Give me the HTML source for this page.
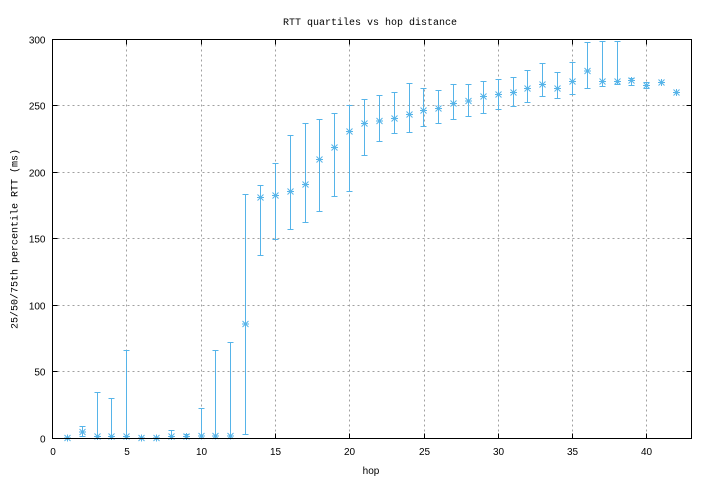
<!DOCTYPE html>
<html><head><meta charset="utf-8"><style>
html,body{margin:0;padding:0;background:#fff;}
svg{display:block;}
.t{font-family:"Liberation Sans",sans-serif;font-size:10px;fill:#000;}
.m{font-family:"Liberation Mono",monospace;font-size:10px;fill:#000;}
</style></head><body>
<svg width="710" height="480" viewBox="0 0 710 480" xmlns="http://www.w3.org/2000/svg">
<rect x="0" y="0" width="710" height="480" fill="#fff"/>
<defs>
<path id="mk" d="M-3.5 0H3.5M0 -3.5V3.5M-3 -3L3 3M-3 3L3 -3" stroke="#56b4e9" stroke-width="1" fill="none"/>
</defs>
<g stroke="#a0a0a0" stroke-width="1" stroke-dasharray="2,3" fill="none" shape-rendering="crispEdges">
<path d="M126.5 39.5V438.5M201.5 39.5V438.5M275.5 39.5V438.5M349.5 39.5V438.5M424.5 39.5V438.5M498.5 39.5V438.5M572.5 39.5V438.5M646.5 39.5V438.5"/>
<path d="M52.5 371.5H691.5M52.5 305.5H691.5M52.5 238.5H691.5M52.5 172.5H691.5M52.5 105.5H691.5"/>
</g>
<g stroke="#000" stroke-width="1" fill="none" shape-rendering="crispEdges">
<path d="M52.5 371.5h5M52.5 305.5h5M52.5 238.5h5M52.5 172.5h5M52.5 105.5h5M691.5 371.5h-5M691.5 305.5h-5M691.5 238.5h-5M691.5 172.5h-5M691.5 105.5h-5"/>
<path d="M126.5 438.5v-5M201.5 438.5v-5M275.5 438.5v-5M349.5 438.5v-5M424.5 438.5v-5M498.5 438.5v-5M572.5 438.5v-5M646.5 438.5v-5M126.5 39.5v5M201.5 39.5v5M275.5 39.5v5M349.5 39.5v5M424.5 39.5v5M498.5 39.5v5M572.5 39.5v5M646.5 39.5v5"/>
</g>
<g stroke="#56b4e9" stroke-width="1" fill="none" shape-rendering="crispEdges">
<path d="M82.5 426.5V436.5M79.5 426.5H85.5M79.5 436.5H85.5"/>
<path d="M97.5 392.5V437.5M94.5 392.5H100.5"/>
<path d="M111.5 398.5V437.5M108.5 398.5H114.5"/>
<path d="M126.5 350.5V437.5M123.5 350.5H129.5"/>
<path d="M171.5 430.5V437.5M168.5 430.5H174.5"/>
<path d="M186.5 434.5V437.5M183.5 434.5H189.5"/>
<path d="M201.5 408.5V437.5M198.5 408.5H204.5"/>
<path d="M215.5 350.5V437.5M212.5 350.5H218.5"/>
<path d="M230.5 342.5V437.5M227.5 342.5H233.5"/>
<path d="M245.5 194.5V434.5M242.5 194.5H248.5M242.5 434.5H248.5"/>
<path d="M260.5 185.5V255.5M257.5 185.5H263.5M257.5 255.5H263.5"/>
<path d="M275.5 163.5V239.5M272.5 163.5H278.5M272.5 239.5H278.5"/>
<path d="M290.5 135.5V229.5M287.5 135.5H293.5M287.5 229.5H293.5"/>
<path d="M305.5 123.5V222.5M302.5 123.5H308.5M302.5 222.5H308.5"/>
<path d="M319.5 119.5V211.5M316.5 119.5H322.5M316.5 211.5H322.5"/>
<path d="M334.5 113.5V196.5M331.5 113.5H337.5M331.5 196.5H337.5"/>
<path d="M349.5 105.5V191.5M346.5 105.5H352.5M346.5 191.5H352.5"/>
<path d="M364.5 99.5V155.5M361.5 99.5H367.5M361.5 155.5H367.5"/>
<path d="M379.5 95.5V141.5M376.5 95.5H382.5M376.5 141.5H382.5"/>
<path d="M394.5 92.5V133.5M391.5 92.5H397.5M391.5 133.5H397.5"/>
<path d="M409.5 83.5V132.5M406.5 83.5H412.5M406.5 132.5H412.5"/>
<path d="M423.5 88.5V126.5M420.5 88.5H426.5M420.5 126.5H426.5"/>
<path d="M438.5 90.5V123.5M435.5 90.5H441.5M435.5 123.5H441.5"/>
<path d="M453.5 84.5V119.5M450.5 84.5H456.5M450.5 119.5H456.5"/>
<path d="M468.5 84.5V116.5M465.5 84.5H471.5M465.5 116.5H471.5"/>
<path d="M483.5 81.5V113.5M480.5 81.5H486.5M480.5 113.5H486.5"/>
<path d="M498.5 79.5V109.5M495.5 79.5H501.5M495.5 109.5H501.5"/>
<path d="M513.5 77.5V106.5M510.5 77.5H516.5M510.5 106.5H516.5"/>
<path d="M527.5 70.5V102.5M524.5 70.5H530.5M524.5 102.5H530.5"/>
<path d="M542.5 63.5V96.5M539.5 63.5H545.5M539.5 96.5H545.5"/>
<path d="M557.5 72.5V98.5M554.5 72.5H560.5M554.5 98.5H560.5"/>
<path d="M572.5 62.5V94.5M569.5 62.5H575.5M569.5 94.5H575.5"/>
<path d="M587.5 42.5V88.5M584.5 42.5H590.5M584.5 88.5H590.5"/>
<path d="M602.5 41.5V86.5M599.5 41.5H605.5M599.5 86.5H605.5"/>
<path d="M617.5 41.5V84.5M614.5 41.5H620.5M614.5 84.5H620.5"/>
<path d="M631.5 78.5V85.5M628.5 78.5H634.5M628.5 85.5H634.5"/>
<path d="M646.5 82.5V88.5M643.5 82.5H649.5M643.5 88.5H649.5"/>
</g>
<g>
<use href="#mk" x="67.5" y="438"/>
<use href="#mk" x="82.5" y="432"/>
<use href="#mk" x="97.5" y="436.5"/>
<use href="#mk" x="111.5" y="436.5"/>
<use href="#mk" x="126.5" y="436.5"/>
<use href="#mk" x="141.5" y="438"/>
<use href="#mk" x="156.5" y="438"/>
<use href="#mk" x="171.5" y="436.5"/>
<use href="#mk" x="186.5" y="436.5"/>
<use href="#mk" x="201.5" y="436"/>
<use href="#mk" x="215.5" y="436"/>
<use href="#mk" x="230.5" y="436"/>
<use href="#mk" x="245.5" y="324"/>
<use href="#mk" x="260.5" y="197.5"/>
<use href="#mk" x="275.5" y="195.5"/>
<use href="#mk" x="290.5" y="191.5"/>
<use href="#mk" x="305.5" y="184.5"/>
<use href="#mk" x="319.5" y="159.5"/>
<use href="#mk" x="334.5" y="147.5"/>
<use href="#mk" x="349.5" y="131.5"/>
<use href="#mk" x="364.5" y="123.5"/>
<use href="#mk" x="379.5" y="121"/>
<use href="#mk" x="394.5" y="118.5"/>
<use href="#mk" x="409.5" y="114.5"/>
<use href="#mk" x="423.5" y="110.5"/>
<use href="#mk" x="438.5" y="108.5"/>
<use href="#mk" x="453.5" y="103.5"/>
<use href="#mk" x="468.5" y="101"/>
<use href="#mk" x="483.5" y="96.5"/>
<use href="#mk" x="498.5" y="94.5"/>
<use href="#mk" x="513.5" y="92.5"/>
<use href="#mk" x="527.5" y="88.5"/>
<use href="#mk" x="542.5" y="84.5"/>
<use href="#mk" x="557.5" y="88.5"/>
<use href="#mk" x="572.5" y="81.5"/>
<use href="#mk" x="587.5" y="71"/>
<use href="#mk" x="602.5" y="81.5"/>
<use href="#mk" x="617.5" y="81.5"/>
<use href="#mk" x="631.5" y="80.5"/>
<use href="#mk" x="646.5" y="85.5"/>
<use href="#mk" x="661.5" y="82.5"/>
<use href="#mk" x="676.5" y="92.5"/>
</g>
<rect x="52.5" y="39.5" width="639" height="399" fill="none" stroke="#000" stroke-width="1" shape-rendering="crispEdges"/>
<g class="t" text-anchor="end">
<text x="45.5" y="442.5">0</text>
<text x="45.5" y="375.5">50</text>
<text x="45.5" y="309.5">100</text>
<text x="45.5" y="242.5">150</text>
<text x="45.5" y="176.5">200</text>
<text x="45.5" y="109.5">250</text>
<text x="45.5" y="43.5">300</text>
</g>
<g class="t" text-anchor="middle">
<text x="53" y="455">0</text>
<text x="127" y="455">5</text>
<text x="201.5" y="455">10</text>
<text x="275.5" y="455">15</text>
<text x="349.5" y="455">20</text>
<text x="424.5" y="455">25</text>
<text x="498.5" y="455">30</text>
<text x="572.5" y="455">35</text>
<text x="646.5" y="455">40</text>
<text x="371" y="474">hop</text>
</g>
<text class="m" x="370" y="25" text-anchor="middle">RTT quartiles vs hop distance</text>
<text class="m" x="0" y="0" text-anchor="middle" transform="translate(17.5,239) rotate(-90)">25/50/75th percentile RTT (ms)</text>
</svg>
</body></html>
